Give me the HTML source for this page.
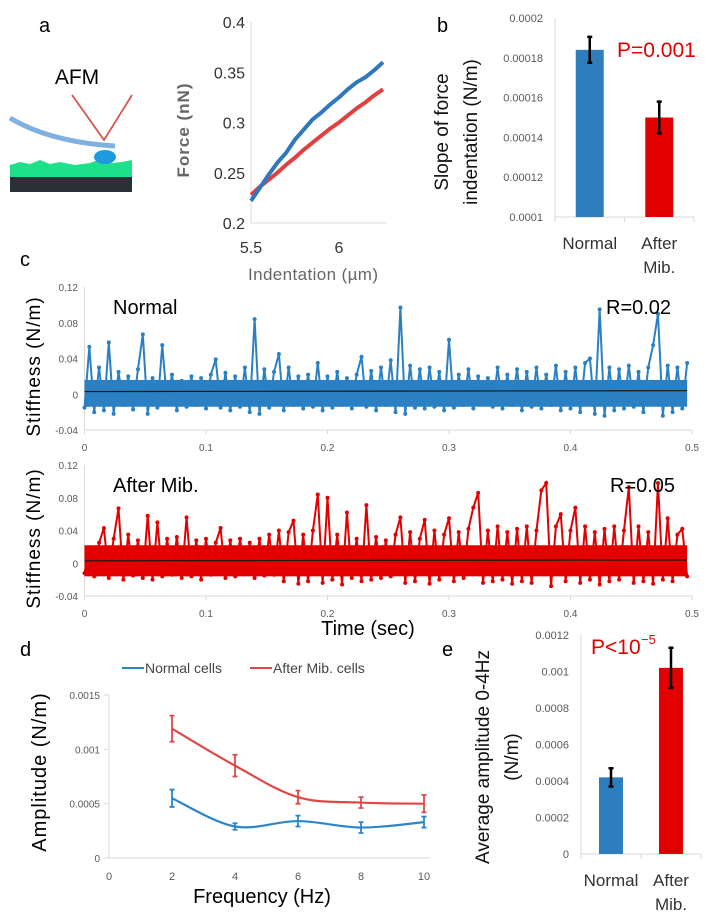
<!DOCTYPE html>
<html><head><meta charset="utf-8"><style>
html,body{margin:0;padding:0;background:#fff;}
svg{display:block;font-family:"Liberation Sans",sans-serif;}
.tk{font-size:11px;fill:#595959;}
.ttl{font-size:19px;fill:#111;}
</style></head><body>
<svg id="fig" width="712" height="918" viewBox="0 0 712 918" xmlns="http://www.w3.org/2000/svg">
<g>
<text x="39" y="32" font-size="20">a</text>
<text x="77" y="84" font-size="21" text-anchor="middle">AFM</text>
<path d="M10,118 Q50,142 115,146" stroke="#7fb0e0" stroke-width="5" fill="none"/>
<polyline points="72,95 104,140 132,95" stroke="#d9534f" stroke-width="1.8" fill="none"/>
<path d="M10,165 L20,162 L30,164 L40,160 L50,164 L60,162 L75,165 L90,163 L98,160 L112,163 L122,162 L132,160 L132,177 L10,177Z" fill="#1ee08a"/>
<ellipse cx="105" cy="157" rx="11" ry="7" fill="#1e9be0"/>
<rect x="10" y="177" width="122" height="15" fill="#2a3038"/>
</g>
<g id="pa"></g>
<g id="pb"></g>
<g id="pc"></g>
<g id="pd"></g>
<g id="pe"></g>
</svg>
<script>
const forceX = [5.5,5.55,5.6,5.65,5.7,5.75,5.8,5.85,5.9,5.95,6.0,6.05,6.1,6.15,6.2,6.25];
const forceNormal = [0.222,0.235,0.248,0.26,0.27,0.283,0.293,0.303,0.31,0.318,0.325,0.333,0.34,0.345,0.352,0.36];
const forceAfter = [0.228,0.236,0.243,0.25,0.258,0.265,0.273,0.28,0.287,0.294,0.3,0.307,0.314,0.32,0.327,0.333];
const forceYTicks = [0.2,0.25,0.3,0.35,0.4];
const forceXTicks = [5.5,6];
const barCats = ["Normal","After Mib."];
const slopeVals = [0.000184,0.00015];
const slopeErr = [0.0000065,0.000008];
const slopeTicks = [0.0001,0.00012,0.00014,0.00016,0.00018,0.0002];
const stiffStep = 0.004;
const stiffNormal = [-15,53,-20,30,-18,58,-22,25,-12,20,-17,28,67,-22,18,-15,55,-10,22,-18,15,-14,20,-12,18,-16,22,39,-15,24,-18,20,-14,30,-20,84,-22,28,-15,25,45,-18,30,-12,20,-16,22,-14,35,-18,20,-15,25,-12,18,-16,22,42,-14,26,-18,30,-12,38,-20,97,-22,32,-15,28,-16,30,-14,25,-18,61,-15,22,-12,28,-16,20,-10,18,-14,30,-16,22,-12,28,-18,25,-14,30,-16,22,-12,32,-18,25,-16,30,-20,35,40,-22,95,-24,30,-18,28,-16,32,-14,25,-20,30,55,90,-24,32,-20,30,-16,35];
const stiffAfter = [-12,18,-16,25,43,-18,30,67,-20,35,-15,28,-18,58,-20,50,-16,30,-14,32,-18,56,-16,28,-20,30,-14,25,43,-18,28,-16,30,-12,25,-18,30,-15,35,-14,40,-22,38,52,-25,35,-22,40,84,-24,80,-20,35,-26,62,-18,30,-22,71,-20,32,-18,28,-16,35,56,-24,38,-22,30,53,-25,40,-20,35,55,-22,38,-18,42,68,86,-24,40,-22,45,-20,38,-25,42,-22,45,-24,40,89,98,-28,45,60,-22,40,68,-24,45,-20,38,-26,42,-22,45,-20,40,93,-24,45,-22,38,-25,98,-20,55,-22,35,42,-16];
const bandNormal = [-14,16];
const bandAfter = [-16,22];
const stiffTrend = [3,4];
const stiffYTicks = [-0.04,0,0.04,0.08,0.12];
const timeTicks = [0,0.1,0.2,0.3,0.4,0.5];
const freqs = [2,4,6,8,10];
const ampNormal = [0.00055,0.00029,0.00034,0.00028,0.00033];
const ampNormalErr = [0.00008,0.00003,0.00005,0.00005,0.00005];
const ampAfter = [0.00119,0.00085,0.00056,0.00051,0.0005];
const ampAfterErr = [0.00012,0.0001,0.00006,0.00005,0.00008];
const ampYTicks = [0,0.0005,0.001,0.0015];
const freqTicks = [0,2,4,6,8,10];
const avgVals = [0.00042,0.00102];
const avgErr = [0.00005,0.00011];
const avgTicks = [0,0.0002,0.0004,0.0006,0.0008,0.001,0.0012];

const NS="http://www.w3.org/2000/svg";
function mk(parent,tag,attrs,txt){const e=document.createElementNS(NS,tag);for(const k in attrs)e.setAttribute(k,attrs[k]);if(txt!==undefined)e.textContent=txt;parent.appendChild(e);return e;}
function lin(d0,d1,r0,r1){return v=>r0+(v-d0)/(d1-d0)*(r1-r0);}
function smooth(pts){let d="M"+pts[0][0]+","+pts[0][1];for(let i=0;i<pts.length-1;i++){const p0=pts[i-1]||pts[i],p1=pts[i],p2=pts[i+1],p3=pts[i+2]||p2;const c1=[p1[0]+(p2[0]-p0[0])/6,p1[1]+(p2[1]-p0[1])/6],c2=[p2[0]-(p3[0]-p1[0])/6,p2[1]-(p3[1]-p1[1])/6];d+=` C${c1[0]},${c1[1]} ${c2[0]},${c2[1]} ${p2[0]},${p2[1]}`;}return d;}
const BLUE="#2e7dbd", RED="#e30000", AX="#d9d9d9";

(function(){
const g=document.getElementById('pa');
const x=lin(5.5,6,251,339), y=lin(0.2,0.4,223,22);
let e=mk(g,'line',{x1:251,y1:22,x2:251,y2:223,stroke:AX});


e=mk(g,'line',{x1:251,y1:223,x2:386,y2:223,stroke:AX});


forceYTicks.forEach(t=>{e=mk(g,'text',{x:245,y:y(t)+6,'text-anchor':'end','font-size':16,fill:'#333'},String(t));

});
forceXTicks.forEach(t=>{e=mk(g,'text',{x:x(t),y:253,'text-anchor':'middle','font-size':16,fill:'#333'},String(t));

});
[[forceAfter,"#e04040"],[forceNormal,"#2f78c0"]].forEach(([s,c],k)=>{
e=mk(g,'polyline',{points:forceX.map((v,i)=>x(v)+","+y(s[i])).join(" "),fill:'none',stroke:c,'stroke-width':4,'stroke-linejoin':'round'});

});
e=mk(g,'text',{x:313,y:280,'text-anchor':'middle','font-size':17,fill:'#666','textLength':130},'Indentation (µm)');


e=mk(g,'text',{transform:'translate(189,130) rotate(-90)','text-anchor':'middle','font-size':17,'font-weight':'bold',fill:'#666','letter-spacing':'1'},'Force (nN)');


})();

function barChart(g,opt){
const y=lin(opt.dmin,opt.dmax,opt.y0,opt.y1);
let e=mk(g,'line',{x1:opt.ax,y1:opt.y1,x2:opt.ax,y2:opt.y0,stroke:AX});


e=mk(g,'line',{x1:opt.ax,y1:opt.y0,x2:opt.axEnd,y2:opt.y0,stroke:AX});


[opt.ax,(opt.ax+opt.axEnd)/2,opt.axEnd].forEach(tx=>{mk(g,'line',{x1:tx,y1:opt.y0,x2:tx,y2:opt.y0+5,stroke:AX});});
opt.ticks.forEach(t=>{e=mk(g,'text',{x:opt.ax-12,y:y(t)+4,'text-anchor':'end',class:'tk'},String(t));

});
const step=(opt.axEnd-opt.ax)/barCats.length;
opt.vals.forEach((v,i)=>{const cx=opt.ax+step*(i+0.5);
e=mk(g,'rect',{x:cx-opt.bw/2,y:y(v),width:opt.bw,height:opt.y0-y(v),fill:i?RED:BLUE});


const t=y(v+opt.err[i]),b=y(v-opt.err[i]);
e=mk(g,'path',{d:`M${cx},${t}V${b}M${cx-2.5},${t}H${cx+2.5}M${cx-2.5},${b}H${cx+2.5}`,stroke:'#000','stroke-width':2.5});


const lab=barCats[i].split(" ");
lab.forEach((w,j)=>{e=mk(g,'text',{x:cx,y:opt.y0+32+j*24,'text-anchor':'middle','font-size':17,fill:'#333'},w);

});
});
}
barChart(document.getElementById('pb'),{dmin:0.0001,dmax:0.0002,y0:217,y1:18,ax:555,axEnd:694,ticks:slopeTicks,vals:slopeVals,err:slopeErr,bw:28});
barChart(document.getElementById('pe'),{dmin:0,dmax:0.0012,y0:854,y1:635,ax:581,axEnd:701,ticks:avgTicks,vals:avgVals,err:avgErr,bw:24});
(function(){
const g=document.getElementById('pb');let e;
e=mk(g,'text',{x:437,y:32,'font-size':20},'b');


e=mk(g,'text',{x:617,y:57,'font-size':21,fill:RED},'P=0.001');


e=mk(g,'text',{transform:'translate(448,132) rotate(-90)','text-anchor':'middle',class:'ttl'},'Slope of force');


e=mk(g,'text',{transform:'translate(477,132) rotate(-90)','text-anchor':'middle',class:'ttl'},'indentation (N/m)');


const ge=document.getElementById('pe');
e=mk(ge,'text',{x:442,y:656,'font-size':20},'e');


e=mk(ge,'text',{x:591,y:654,'font-size':21,fill:RED},'P<10');


mk(ge,'text',{x:641,y:644,'font-size':13,fill:RED},'−5');
e=mk(ge,'text',{transform:'translate(489,757) rotate(-90)','text-anchor':'middle',class:'ttl'},'Average amplitude 0-4Hz');


e=mk(ge,'text',{transform:'translate(518,757) rotate(-90)','text-anchor':'middle',class:'ttl'},'(N/m)');


})();

(function(){
const g=document.getElementById('pc');let e;
e=mk(g,'text',{x:20,y:266,'font-size':20},'c');


function strip(top,bot,data,band,color,name,label,rlab){
const x=lin(0,0.5,84.5,692), y=lin(-0.04,0.12,bot,top);
e=mk(g,'line',{x1:84.5,y1:top,x2:84.5,y2:bot,stroke:AX});


e=mk(g,'line',{x1:84.5,y1:bot,x2:692,y2:bot,stroke:AX});


stiffYTicks.forEach(t=>{e=mk(g,'text',{x:78,y:y(t)+4,'text-anchor':'end','font-size':10,fill:'#595959'},String(t));

});
timeTicks.forEach(t=>{mk(g,'line',{x1:x(t),y1:bot,x2:x(t),y2:bot+4,stroke:AX});
e=mk(g,'text',{x:x(t),y:bot+21,'text-anchor':'middle','font-size':10,fill:'#595959'},String(t));

});
const n=data.length-1;
e=mk(g,'rect',{x:x(0),y:y(band[1]/1000),width:x(n*stiffStep)-x(0),height:y(band[0]/1000)-y(band[1]/1000),fill:color});


e=mk(g,'polyline',{points:data.map((v,i)=>x(i*stiffStep)+","+y(v/1000)).join(" "),fill:'none',stroke:color,'stroke-width':2});


data.forEach((v,i)=>{mk(g,'circle',{cx:x(i*stiffStep),cy:y(v/1000),r:2,fill:color});});
e=mk(g,'line',{x1:x(0),y1:y(stiffTrend[0]/1000),x2:x(n*stiffStep),y2:y(stiffTrend[1]/1000),stroke:'#1a1a1a','stroke-width':1.2});


e=mk(g,'text',{x:113,y:top+27,'font-size':20},label);


e=mk(g,'text',{x:rlab,y:top+27,'font-size':20},label==='Normal'?'R=0.02':'R=0.05');


e=mk(g,'text',{transform:`translate(40,${(top+bot)/2+8}) rotate(-90)`,'text-anchor':'middle','font-size':19,'letter-spacing':'1'},'Stiffness (N/m)');


}
strip(287,430,stiffNormal,bandNormal,"#2a80c2",'normal-stiffness','Normal',606);
strip(465,596,stiffAfter,bandAfter,"#e20000",'after-stiffness','After Mib.',610);
e=mk(g,'text',{x:368,y:635,'text-anchor':'middle','font-size':20},'Time (sec)');


})();

(function(){
const g=document.getElementById('pd');let e;
const x=lin(0,10,109,424), y=lin(0,0.0015,858,695);
e=mk(g,'text',{x:20,y:656,'font-size':20},'d');


e=mk(g,'line',{x1:109,y1:695,x2:109,y2:858,stroke:AX});


e=mk(g,'line',{x1:109,y1:858,x2:430,y2:858,stroke:AX});


ampYTicks.forEach(t=>{mk(g,'line',{x1:104,y1:y(t),x2:109,y2:y(t),stroke:AX});
e=mk(g,'text',{x:100,y:y(t)+4,'text-anchor':'end','font-size':10,fill:'#595959'},String(t));

});
freqTicks.forEach(t=>{e=mk(g,'text',{x:x(t),y:880,'text-anchor':'middle','font-size':11,fill:'#595959'},String(t));

});
[[ampAfter,ampAfterErr,"#e04848",'after'],[ampNormal,ampNormalErr,"#2b86c8",'normal']].forEach(([s,er,c,n])=>{
const pts=freqs.map((f,i)=>[x(f),y(s[i])]);
e=mk(g,'path',{d:smooth(pts),fill:'none',stroke:c,'stroke-width':2.2});


freqs.forEach((f,i)=>{const cx=x(f),t=y(s[i]+er[i]),b=y(s[i]-er[i]);
e=mk(g,'path',{d:`M${cx},${t}V${b}M${cx-2.5},${t}H${cx+2.5}M${cx-2.5},${b}H${cx+2.5}`,stroke:c,'stroke-width':1.8});

});
});
e=mk(g,'line',{x1:122,y1:668,x2:144,y2:668,stroke:"#2b86c8",'stroke-width':2});


e=mk(g,'text',{x:145,y:673,'font-size':14,fill:'#444'},'Normal cells');


e=mk(g,'line',{x1:250,y1:668,x2:272,y2:668,stroke:"#e04848",'stroke-width':2});


e=mk(g,'text',{x:273,y:673,'font-size':14,fill:'#444'},'After Mib. cells');


e=mk(g,'text',{x:262,y:903,'text-anchor':'middle','font-size':20},'Frequency (Hz)');


e=mk(g,'text',{transform:'translate(46,772) rotate(-90)','text-anchor':'middle','font-size':20,'letter-spacing':'1'},'Amplitude (N/m)');


})();
</script>
</body></html>
